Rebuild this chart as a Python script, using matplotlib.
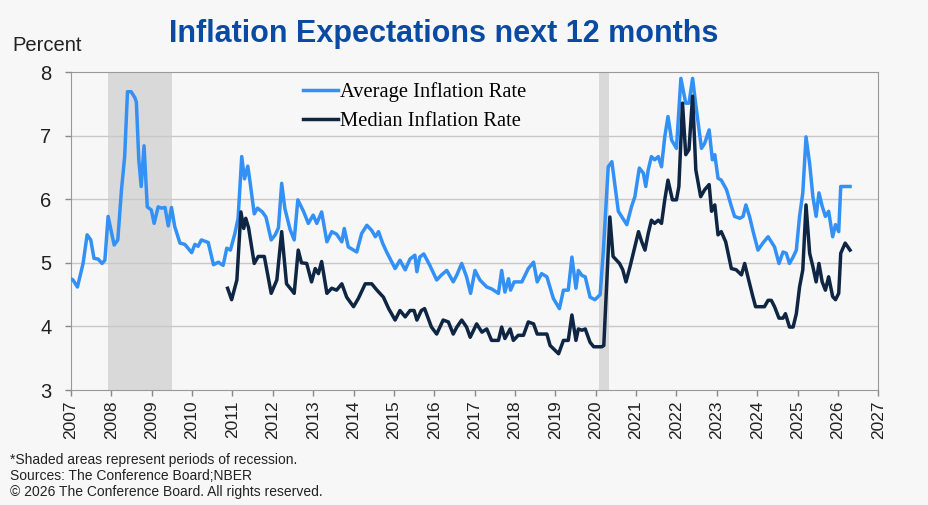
import matplotlib.pyplot as plt

# fractional year, value
avg_t = [2007.00, 2007.05, 2007.16, 2007.30, 2007.40, 2007.49, 2007.57, 2007.67, 2007.77, 2007.84,
         2007.92, 2008.07, 2008.16, 2008.25, 2008.33, 2008.40, 2008.49, 2008.58, 2008.62, 2008.68,
         2008.74, 2008.81, 2008.89, 2008.99, 2009.06, 2009.16, 2009.24, 2009.33, 2009.41, 2009.49,
         2009.57, 2009.70, 2009.82, 2009.99, 2010.07, 2010.15, 2010.23, 2010.40, 2010.53, 2010.65,
         2010.77, 2010.86, 2010.95, 2011.06, 2011.14, 2011.23, 2011.30, 2011.38, 2011.43, 2011.54,
         2011.62, 2011.74, 2011.83, 2011.96, 2012.06, 2012.14, 2012.22, 2012.30, 2012.43, 2012.53,
         2012.62, 2012.76, 2012.88, 2013.00, 2013.09, 2013.21, 2013.34, 2013.46, 2013.58, 2013.71,
         2013.77, 2013.87, 2014.08, 2014.20, 2014.33, 2014.45, 2014.54, 2014.62, 2014.72, 2014.82,
         2015.03, 2015.15, 2015.28, 2015.40, 2015.52, 2015.57, 2015.64, 2015.74, 2015.89, 2016.06,
         2016.18, 2016.31, 2016.47, 2016.56, 2016.68, 2016.80, 2016.90, 2017.01, 2017.13, 2017.30,
         2017.42, 2017.59, 2017.67, 2017.75, 2017.84, 2017.89, 2017.98, 2018.17, 2018.33, 2018.46,
         2018.55, 2018.66, 2018.79, 2018.95, 2019.10, 2019.20, 2019.32, 2019.41, 2019.51, 2019.57,
         2019.66, 2019.74, 2019.86, 2019.98, 2020.11, 2020.19, 2020.31, 2020.40, 2020.48, 2020.56,
         2020.64, 2020.77, 2020.89, 2020.97, 2021.08, 2021.18, 2021.24, 2021.30, 2021.38, 2021.46,
         2021.55, 2021.63, 2021.71, 2021.79, 2021.88, 2022.00, 2022.11, 2022.23, 2022.31, 2022.40,
         2022.48, 2022.62, 2022.70, 2022.81, 2022.89, 2022.95, 2023.03, 2023.11, 2023.24, 2023.36,
         2023.44, 2023.57, 2023.65, 2023.72, 2023.81, 2023.90, 2024.02, 2024.14, 2024.27, 2024.35,
         2024.43, 2024.54, 2024.64, 2024.72, 2024.80, 2024.89, 2024.97, 2025.05, 2025.13, 2025.21,
         2025.30, 2025.38, 2025.46, 2025.53, 2025.61, 2025.69, 2025.77, 2025.87, 2025.94, 2026.02,
         2026.07, 2026.20, 2026.30]
avg_v = [4.75, 4.73, 4.62, 4.99, 5.44, 5.36, 5.07, 5.06, 4.99, 5.04,
         5.73, 5.28, 5.36, 6.14, 6.67, 7.69, 7.69, 7.60, 7.53, 6.62,
         6.20, 6.84, 5.88, 5.83, 5.62, 5.88, 5.86, 5.87, 5.58, 5.87,
         5.57, 5.31, 5.29, 5.16, 5.29, 5.26, 5.36, 5.32, 4.97, 5.01,
         4.96, 5.23, 5.20, 5.46, 5.70, 6.67, 6.32, 6.52, 6.30, 5.77,
         5.86, 5.80, 5.72, 5.36, 5.44, 5.55, 6.25, 5.85, 5.52, 5.36,
         5.99, 5.81, 5.62, 5.75, 5.62, 5.80, 5.33, 5.49, 5.45, 5.33,
         5.54, 5.25, 5.17, 5.46, 5.59, 5.51, 5.41, 5.49, 5.31, 5.17,
         4.91, 5.04, 4.89, 5.06, 5.12, 4.86, 5.09, 5.14, 4.96, 4.73,
         4.81, 4.88, 4.70, 4.81, 4.99, 4.78, 4.52, 4.88, 4.73, 4.62,
         4.59, 4.52, 4.88, 4.54, 4.75, 4.57, 4.70, 4.70, 4.91, 5.01,
         4.70, 4.83, 4.78, 4.44, 4.28, 4.57, 4.57, 5.09, 4.60, 4.88,
         4.80, 4.78, 4.46, 4.42, 4.50, 5.20, 6.51, 6.59, 6.20, 5.81,
         5.73, 5.60, 5.89, 6.04, 6.49, 6.41, 6.20, 6.46, 6.67, 6.62,
         6.67, 6.51, 6.98, 7.30, 6.93, 6.80, 7.90, 7.51, 7.51, 7.90,
         7.48, 6.80, 6.88, 7.09, 6.62, 6.70, 6.33, 6.30, 6.15, 5.89,
         5.73, 5.70, 5.73, 5.91, 5.73, 5.49, 5.20, 5.31, 5.41, 5.33,
         5.25, 4.99, 5.17, 5.15, 4.99, 5.09, 5.20, 5.73, 6.10, 6.98,
         6.56, 6.04, 5.73, 6.10, 5.89, 5.73, 5.81, 5.41, 5.60, 5.49,
         6.20, 6.20, 6.20]

med_t = [2010.88, 2010.98, 2011.11, 2011.21, 2011.28, 2011.33, 2011.40, 2011.54, 2011.64, 2011.79,
         2011.96, 2012.10, 2012.22, 2012.34, 2012.47, 2012.53, 2012.63, 2012.71, 2012.84, 2012.96,
         2013.05, 2013.13, 2013.21, 2013.34, 2013.46, 2013.58, 2013.71, 2013.83, 2014.00, 2014.12,
         2014.29, 2014.45, 2014.58, 2014.74, 2014.87, 2015.03, 2015.15, 2015.28, 2015.40, 2015.50,
         2015.57, 2015.68, 2015.76, 2015.93, 2016.06, 2016.22, 2016.35, 2016.47, 2016.56, 2016.68,
         2016.80, 2016.89, 2017.05, 2017.18, 2017.30, 2017.42, 2017.59, 2017.67, 2017.75, 2017.88,
         2017.96, 2018.08, 2018.21, 2018.33, 2018.46, 2018.55, 2018.66, 2018.79, 2018.87, 2018.95,
         2019.08, 2019.20, 2019.32, 2019.41, 2019.51, 2019.57, 2019.66, 2019.74, 2019.86, 2019.95,
         2020.15, 2020.20, 2020.35, 2020.43, 2020.59, 2020.67, 2020.75, 2020.85, 2020.93, 2021.06,
         2021.14, 2021.22, 2021.30, 2021.38, 2021.46, 2021.55, 2021.63, 2021.71, 2021.79, 2021.90,
         2022.00, 2022.06, 2022.15, 2022.23, 2022.31, 2022.40, 2022.48, 2022.60, 2022.70, 2022.81,
         2022.87, 2022.95, 2023.03, 2023.11, 2023.22, 2023.36, 2023.48, 2023.61, 2023.69, 2023.77,
         2023.88, 2023.96, 2024.18, 2024.27, 2024.35, 2024.43, 2024.54, 2024.64, 2024.70, 2024.80,
         2024.89, 2024.97, 2025.05, 2025.13, 2025.21, 2025.30, 2025.38, 2025.46, 2025.53, 2025.61,
         2025.69, 2025.77, 2025.87, 2025.94, 2026.02, 2026.07, 2026.18, 2026.30]
med_v = [4.60, 4.42, 4.73, 5.80, 5.54, 5.70, 5.55, 4.99, 5.10, 5.10,
         4.52, 4.73, 5.49, 4.67, 4.57, 4.52, 5.20, 5.00, 4.99, 4.70,
         4.91, 4.83, 5.02, 4.52, 4.60, 4.57, 4.67, 4.46, 4.31, 4.44,
         4.67, 4.67, 4.57, 4.46, 4.28, 4.10, 4.25, 4.15, 4.25, 4.25,
         4.10, 4.25, 4.28, 3.99, 3.88, 4.10, 4.07, 3.88, 3.99, 4.10,
         3.99, 3.83, 4.04, 3.91, 3.96, 3.78, 3.78, 3.99, 3.81, 3.96,
         3.78, 3.86, 3.86, 4.07, 4.04, 3.88, 3.88, 3.88, 3.70, 3.65,
         3.57, 3.78, 3.78, 4.18, 3.78, 3.96, 3.94, 3.96, 3.75, 3.68,
         3.68, 3.70, 5.72, 5.10, 4.99, 4.89, 4.70, 4.94, 5.15, 5.49,
         5.33, 5.20, 5.46, 5.67, 5.62, 5.67, 5.62, 5.99, 6.30, 5.99,
         5.99, 6.20, 7.51, 6.70, 6.78, 7.62, 6.46, 6.04, 6.15, 6.23,
         5.81, 5.91, 5.44, 5.49, 5.33, 4.91, 4.89, 4.81, 4.99, 4.78,
         4.50, 4.31, 4.31, 4.41, 4.41, 4.31, 4.13, 4.13, 4.20, 3.99,
         3.99, 4.20, 4.62, 4.89, 5.91, 5.15, 4.94, 4.70, 4.99, 4.70,
         4.57, 4.78, 4.47, 4.42, 4.52, 5.15, 5.31, 5.20]

recessions = [(2007.92, 2009.50), (2020.08, 2020.33)]
years = list(range(2007, 2028))

bg = '#f7f7f7'
fig = plt.figure(figsize=(9.29, 5.05), dpi=100, facecolor=bg)
ax = fig.add_axes([0.0764, 0.2277, 0.869, 0.6297], facecolor=bg)

for a, b in recessions:
    ax.axvspan(a, b, color='#d9d9d9', lw=0, zorder=0)

for y in [4, 5, 6, 7]:
    ax.axhline(y, color='#c8c8c8', lw=1, zorder=1)

ax.plot(avg_t, avg_v, color='#3390f5', lw=2.5, label='Average Inflation Rate', zorder=3)
ax.plot(med_t, med_v, color='#0e2643', lw=2.5, label='Median Inflation Rate', zorder=4)

ax.set_xlim(2007, 2027)
ax.set_ylim(3, 8)
ax.set_xticks(years)
ax.set_xticklabels([str(y) for y in years], rotation=90, fontsize=12.5,
                   family='Liberation Sans', color='#222222')
ax.set_yticks([3, 4, 5, 6, 7, 8])
ax.set_yticklabels(['3', '4', '5', '6', '7', '8'], fontsize=14.5,
                   family='Liberation Sans', color='#222222')
ax.tick_params(axis='both', direction='out', length=4, color='#888888', width=1)
ax.tick_params(axis='y', pad=10)
for s in ax.spines.values():
    s.set_color('#999999')

leg = ax.legend(loc='upper left', bbox_to_anchor=(0.265, 1.025), frameon=False,
                prop={'family': 'Liberation Serif', 'size': 14.8},
                handlelength=1.7, handletextpad=0.1, labelspacing=0.45)

fig.text(0.478, 0.932, 'Inflation Expectations next 12 months', ha='center', va='center',
         fontsize=22, fontweight='bold', color='#0b4aa2', family='Liberation Sans')
fig.text(0.013, 0.91, 'Percent', ha='left', va='center', fontsize=14.5,
         family='Liberation Sans', color='#222222')

notes = ['*Shaded areas represent periods of recession.',
         'Sources: The Conference Board;NBER',
         '\u00a9 2026 The Conference Board. All rights reserved.']
for i, t in enumerate(notes):
    fig.text(0.011, 0.089 - i * 0.032, t, ha='left', va='center', fontsize=10,
             family='Liberation Sans', color='#222222')

fig.savefig('out.png', dpi=100, facecolor=bg)
